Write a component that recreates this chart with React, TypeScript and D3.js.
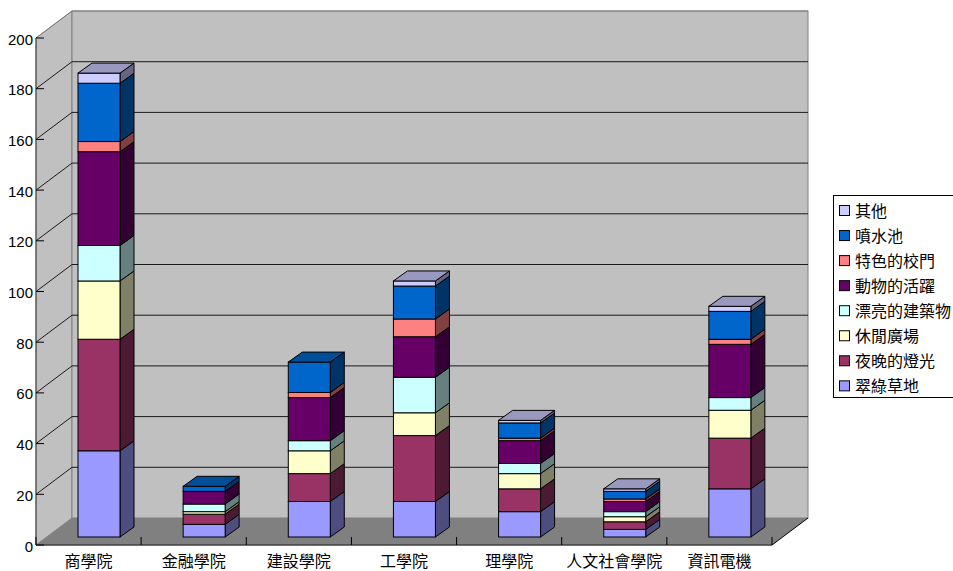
import React from "react";
import * as d3 from "d3";

const categories = ["商學院", "金融學院", "建設學院", "工學院", "理學院", "人文社會學院", "資訊電機"];
const seriesNames = ["翠綠草地", "夜晚的燈光", "休閒廣場", "漂亮的建築物", "動物的活躍", "特色的校門", "噴水池", "其他"];
const lawn = [34, 5, 14, 14, 10, 3, 19];
const nightLights = [44, 4, 11, 26, 9, 3, 20];
const plaza = [23, 1, 9, 9, 6, 2, 11];
const buildings = [14, 3, 4, 14, 4, 2, 5];
const animals = [37, 5, 17, 16, 9, 4, 21];
const gate = [4, 0, 2, 7, 1, 1, 2];
const fountain = [23, 2, 12, 13, 6, 3, 11];
const others = [4, 0, 0, 2, 1, 1, 2];
const seriesValues = [lawn, nightLights, plaza, buildings, animals, gate, fountain, others];
const seriesColors = ["#9999ff", "#993366", "#ffffcc", "#ccffff", "#660066", "#ff8080", "#0066cc", "#ccccff"];
const yTicks = d3.range(0, 201, 20);

const front = { left: 36, right: 772, top: 38, bottom: 545 };
const wallDx = 36;
const wallDy = -27;
const barDx = 14;
const barDy = -10;
const barFloor = 8;

const xBand = d3.scaleBand<number>().domain(d3.range(categories.length)).range([front.left, front.right]);
const yFront = d3.scaleLinear().domain([0, 200]).range([front.bottom, front.top]);
const mix = (c: string) => d3.interpolateRgb(c, "#000000")(0.5);
const topMix = (c: string) => d3.interpolateRgb(c, "#000000")(0.25);
const pts = (p: [number, number][]) => p.map((q) => q.join(",")).join(" ");

export default function App() {
  const bw = xBand.bandwidth();
  const bars = categories.map((_, i) => {
    const x0 = xBand(i)! + 42;
    const x1 = x0 + 42;
    let acc = 0;
    const segs = seriesValues
      .map((vals, s) => {
        const lo = acc;
        acc += vals[i];
        return { s, lo, hi: acc, v: vals[i] };
      })
      .filter((d) => d.v > 0);
    return { i, x0, x1, segs };
  });
  const yBar = (v: number) => yFront(v) - barFloor;

  return (
    <svg width={953} height={571} style={{ position: "absolute", left: 0, top: 0, background: "#fff" }}>
      {/* side wall, back wall and floor */}
      <polygon
        points={pts([
          [front.left, front.top],
          [front.left + wallDx, front.top + wallDy],
          [front.left + wallDx, front.bottom + wallDy],
          [front.left, front.bottom],
        ])}
        fill="#c0c0c0"
        stroke="#808080"
      />
      <rect
        x={front.left + wallDx}
        y={front.top + wallDy}
        width={front.right - front.left}
        height={front.bottom - front.top}
        fill="#c0c0c0"
        stroke="#808080"
      />
      <polygon
        points={pts([
          [front.left, front.bottom],
          [front.right, front.bottom],
          [front.right + wallDx, front.bottom + wallDy],
          [front.left + wallDx, front.bottom + wallDy],
        ])}
        fill="#808080"
      />
      {/* value gridlines running along both walls */}
      {yTicks.map((t) =>
        t === 0 ? null : (
          <polyline
            key={t}
            points={pts([
              [front.left, yFront(t)],
              [front.left + wallDx, yFront(t) + wallDy],
              [front.right + wallDx, yFront(t) + wallDy],
            ])}
            fill="none"
            stroke={t === 200 ? "#808080" : "#1a1a1a"}
            strokeWidth={1}
          />
        )
      )}
      <line x1={front.right} y1={front.bottom} x2={front.right + wallDx} y2={front.bottom + wallDy} stroke="#000" />

      {/* axes */}
      <line x1={front.left} y1={front.top} x2={front.left} y2={front.bottom} stroke="#404040" />
      <line x1={front.left} y1={front.bottom} x2={front.right} y2={front.bottom} stroke="#404040" strokeWidth={1.5} />
      {yTicks.map((t) => (
        <g key={t}>
          <line x1={front.left} x2={front.left + 8} y1={yFront(t)} y2={yFront(t)} stroke="#000" />
          <text
            x={33}
            y={yFront(t) + 6.5}
            textAnchor="end"
            fontFamily="Liberation Sans, Arial, sans-serif"
            fontSize={15}
            fill="#000"
          >
            {t}
          </text>
        </g>
      ))}
      {d3.range(categories.length + 1).map((i) => {
        const x = front.left + i * bw;
        return <line key={i} x1={x} x2={x} y1={front.bottom} y2={front.bottom - 8} stroke="#000" />;
      })}
      {categories.map((c, i) => (
        <text
          key={c}
          x={xBand(i)! + bw / 2}
          y={567}
          textAnchor="middle"
          fontFamily="Noto Sans CJK TC, sans-serif"
          fontSize={16}
          fill="#000"
        >
          {c}
        </text>
      ))}

      {/* stacked 3D columns: side faces, front faces, then the lid */}
      {bars.map((b) => (
        <g key={b.i} stroke="#000" strokeWidth={1}>
          {b.segs.map((d) => (
            <polygon
              key={"side" + d.s}
              points={pts([
                [b.x1, yBar(d.lo)],
                [b.x1 + barDx, yBar(d.lo) + barDy],
                [b.x1 + barDx, yBar(d.hi) + barDy],
                [b.x1, yBar(d.hi)],
              ])}
              fill={mix(seriesColors[d.s])}
            />
          ))}
          {b.segs.map((d) => (
            <rect
              key={"front" + d.s}
              x={b.x0}
              y={yBar(d.hi)}
              width={b.x1 - b.x0}
              height={yBar(d.lo) - yBar(d.hi)}
              fill={seriesColors[d.s]}
            />
          ))}
          {(() => {
            const last = b.segs[b.segs.length - 1];
            const yt = yBar(last.hi);
            return (
              <polygon
                points={pts([
                  [b.x0, yt],
                  [b.x1, yt],
                  [b.x1 + barDx, yt + barDy],
                  [b.x0 + barDx, yt + barDy],
                ])}
                fill={topMix(seriesColors[last.s])}
              />
            );
          })()}
        </g>
      ))}

      {/* legend, top entry is the last stacked series; the frame runs off the right edge */}
      <rect x={833.5} y={195.5} width={130} height={202} fill="#fff" stroke="#000" />
      {seriesNames
        .map((n, s) => ({ n, s }))
        .reverse()
        .map((d, k) => (
          <g key={d.n}>
            <rect x={839.5} y={205.5 + k * 25.05} width={10} height={10} fill={seriesColors[d.s]} stroke="#000" />
            <text
              x={855}
              y={216.5 + k * 25.05}
              fontFamily="Noto Sans CJK TC, sans-serif"
              fontSize={16}
              fill="#000"
            >
              {d.n}
            </text>
          </g>
        ))}
    </svg>
  );
}
